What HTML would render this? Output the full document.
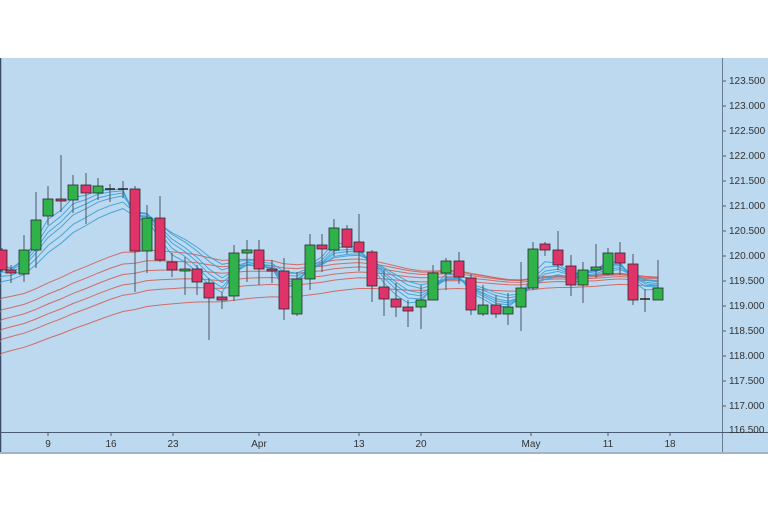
<!DOCTYPE html>
<html><head><meta charset="utf-8"><style>
body{margin:0;background:#fff;width:768px;height:512px;overflow:hidden;font-family:"Liberation Sans",sans-serif}
</style></head><body>
<svg id="s" width="768" height="512" xmlns="http://www.w3.org/2000/svg">
<rect x="0" y="58" width="768" height="395" fill="#bcd9ef"/>
<line x1="0.5" y1="58" x2="0.5" y2="453" stroke="#3a4a66" stroke-width="1.5"/>
<line x1="722.5" y1="58" x2="722.5" y2="453" stroke="#6a7c90"/>
<line x1="0" y1="432.5" x2="768" y2="432.5" stroke="#4a5a70"/>
<rect x="0" y="452" width="768" height="2" fill="#9fb4c8"/>
<g id="ma"></g><g id="cd"></g>
<g font-size="10" fill="#333">
<text x="729" y="84">123.500</text><text x="729" y="109">123.000</text><text x="729" y="134">122.500</text><text x="729" y="159">122.000</text><text x="729" y="184">121.500</text><text x="729" y="209">121.000</text><text x="729" y="234">120.500</text><text x="729" y="259">120.000</text><text x="729" y="284">119.500</text><text x="729" y="309">119.000</text><text x="729" y="334">118.500</text><text x="729" y="359">118.000</text><text x="729" y="384">117.500</text><text x="729" y="409">117.000</text><text x="729" y="433">116.500</text>
</g>
<g stroke="#556" stroke-width="1">
<line x1="723" y1="81" x2="726" y2="81"/><line x1="723" y1="106" x2="726" y2="106"/><line x1="723" y1="131" x2="726" y2="131"/><line x1="723" y1="156" x2="726" y2="156"/><line x1="723" y1="181" x2="726" y2="181"/><line x1="723" y1="206" x2="726" y2="206"/><line x1="723" y1="231" x2="726" y2="231"/><line x1="723" y1="256" x2="726" y2="256"/><line x1="723" y1="281" x2="726" y2="281"/><line x1="723" y1="306" x2="726" y2="306"/><line x1="723" y1="331" x2="726" y2="331"/><line x1="723" y1="356" x2="726" y2="356"/><line x1="723" y1="381" x2="726" y2="381"/><line x1="723" y1="406" x2="726" y2="406"/>
<line x1="48" y1="433" x2="48" y2="436"/><line x1="111" y1="433" x2="111" y2="436"/><line x1="173" y1="433" x2="173" y2="436"/><line x1="259" y1="433" x2="259" y2="436"/><line x1="359" y1="433" x2="359" y2="436"/><line x1="421" y1="433" x2="421" y2="436"/><line x1="531" y1="433" x2="531" y2="436"/><line x1="608" y1="433" x2="608" y2="436"/><line x1="670" y1="433" x2="670" y2="436"/>
</g>
<g font-size="10" fill="#333" text-anchor="middle">
<text x="48" y="447">9</text><text x="111" y="447">16</text><text x="173" y="447">23</text><text x="259" y="447">Apr</text><text x="359" y="447">13</text><text x="421" y="447">20</text><text x="531" y="447">May</text><text x="608" y="447">11</text><text x="670" y="447">18</text>
</g>
</svg>
<script>
var C=[[2,250,270,248,272,0],[11,270,273,265,283,0],[24,274,250,235,282,1],[36,250,220,192,268,1],[48,216,199,186,225,1],[61,199,201,155,212,0],[73,200,185,175,213,1],[86,185,193,173,224,0],[98,193,186,178,200,1],[110,189,189,184,202,2],[123,189,189,181,198,2],[135,189,251,186,292,0],[147,251,218,205,273,1],[160,218,260,196,262,0],[172,262,270,253,277,0],[185,271,269,257,295,1],[197,269,282,265,295,0],[209,283,298,278,340,0],[222,297,300,292,309,0],[234,296,253,245,301,1],[247,253,250,240,282,1],[259,250,269,240,285,0],[272,269,271,260,283,0],[284,271,309,258,320,0],[297,314,279,272,316,1],[310,279,245,234,290,1],[322,245,249,234,272,0],[334,250,228,219,256,1],[347,229,247,225,254,0],[359,242,252,214,271,0],[372,252,286,250,302,0],[384,287,299,270,316,0],[396,299,307,283,317,0],[408,307,311,300,327,0],[421,307,300,285,329,1],[433,300,273,265,300,1],[446,273,261,258,290,1],[459,261,277,252,284,0],[471,278,310,274,315,0],[483,314,305,285,316,1],[496,305,314,295,318,0],[508,314,307,293,325,1],[521,307,288,262,331,1],[533,288,249,242,290,1],[545,244,250,242,256,0],[558,250,265,231,270,0],[571,266,285,255,296,0],[583,285,270,262,303,1],[596,270,267,244,278,1],[608,274,253,248,275,1],[620,253,263,242,275,0],[633,264,300,254,305,0],[645,299,299,289,312,2],[658,300,288,260,300,1]];
var NS="http://www.w3.org/2000/svg";
function el(t,a,p){var e=document.createElementNS(NS,t);for(var k in a)e.setAttribute(k,a[k]);p.appendChild(e);return e;}
var ma=document.getElementById('ma'),cd=document.getElementById('cd');
function ema(per,seed,col){var v=seed,pts=[];C.forEach(function(c){var k=2/(per+1);v=v+(c[2]-v)*k;pts.push(c[0]+','+v.toFixed(1));});pts.unshift('0,'+seed);el('polyline',{points:pts.join(' '),fill:'none',stroke:col,'stroke-width':1,opacity:0.9},ma);}
[[30,300],[35,312],[40,322],[45,332],[50,342],[60,356]].forEach(function(a){ema(a[0],a[1],'#d0605a');});
[[3,258],[4,263],[5,268],[6,273],[8,278],[10,284]].forEach(function(a){ema(a[0],a[1],'#3aa0d8');});
C.forEach(function(c){var x=c[0];el('line',{x1:x,y1:c[3],x2:x,y2:c[4],stroke:'#4a5560','stroke-width':1},cd);
var t=Math.min(c[1],c[2]),h=Math.max(Math.abs(c[1]-c[2]),1.5);
if(c[5]==2){el('rect',{x:x-5,y:t-0.75,width:10,height:1.5,fill:'#222'},cd);return;}
el('rect',{x:x-5,y:t,width:10,height:h,fill:c[5]?'#2fb24a':'#e0336a',stroke:'#2a2a2a','stroke-width':0.8},cd);});
</script>
</body></html>
